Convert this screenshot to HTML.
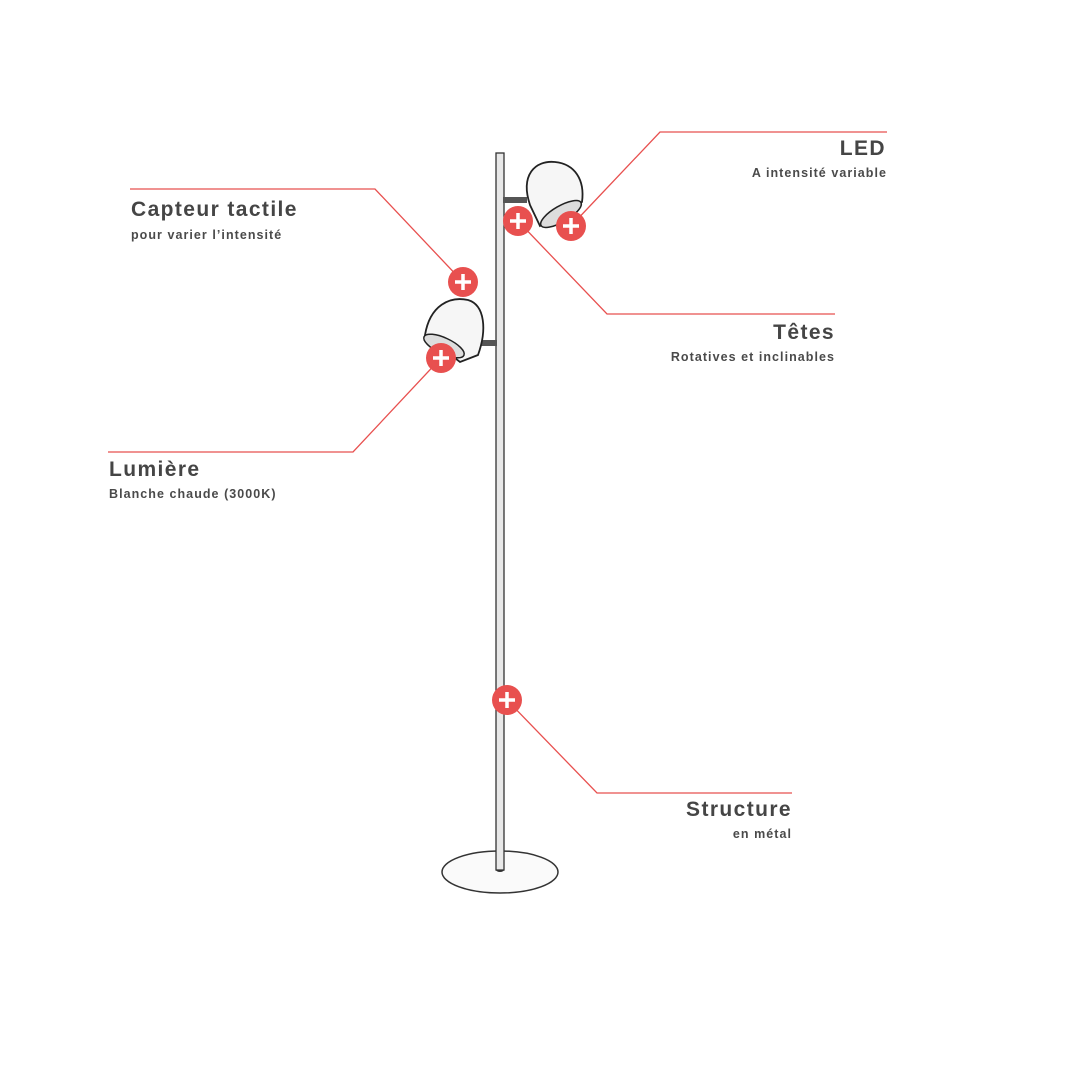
<!DOCTYPE html>
<html><head><style>
body{margin:0;background:#fff;width:1080px;height:1080px;overflow:hidden;position:relative;font-family:"Liberation Sans",sans-serif;color:#454545}
.t{position:absolute;font-weight:bold;font-size:21px;white-space:nowrap;letter-spacing:1.4px}
.s{position:absolute;font-size:12.5px;white-space:nowrap;letter-spacing:1.05px;font-weight:bold;color:#4a4a4a}
.r{text-align:right}
</style></head><body>
<svg width="1080" height="1080" style="position:absolute;left:0;top:0">
<g stroke="#e8504f" stroke-width="1.3" fill="none">
<polyline points="130,189 375,189 462,281"/>
<polyline points="887,132 660,132 571,226"/>
<polyline points="518,221 607,314 835,314"/>
<polyline points="108,452 353,452 441,358"/>
<polyline points="507,700 597,793 792,793"/>
</g>
<ellipse cx="500" cy="872" rx="58" ry="21" fill="#fafafa" stroke="#333" stroke-width="1.5"/>
<ellipse cx="500" cy="870" rx="4" ry="2" fill="#333"/>
<rect x="496" y="153" width="8" height="717" fill="#e8e8e8" stroke="#333" stroke-width="1.3"/>
<rect x="503" y="197" width="24" height="6" fill="#555"/>
<path d="M530,205 C520,175 535,160 555,162 C575,164 585,180 582,202 L540,226 Z" fill="#f6f6f6" stroke="#222" stroke-width="1.8"/>
<ellipse cx="561" cy="214" rx="23" ry="8" transform="rotate(-30 561 214)" fill="#ddd" stroke="#222" stroke-width="1.5"/>
<rect x="476" y="340" width="21" height="6" fill="#555"/>
<path d="M425,335 C430,305 450,296 468,300 C485,305 487,330 478,355 L460,362 Z" fill="#f6f6f6" stroke="#222" stroke-width="1.8"/>
<ellipse cx="444" cy="346" rx="22" ry="8" transform="rotate(25 444 346)" fill="#ddd" stroke="#222" stroke-width="1.5"/>
<g fill="#e8504f">
<circle cx="463" cy="282" r="15"/><circle cx="518" cy="221" r="15"/><circle cx="571" cy="226" r="15"/>
<circle cx="441" cy="358" r="15"/><circle cx="507" cy="700" r="15"/>
</g>
<g stroke="#fff" stroke-width="3.5">
<path d="M455,282h16M463,274v16"/><path d="M510,221h16M518,213v16"/><path d="M563,226h16M571,218v16"/>
<path d="M433,358h16M441,350v16"/><path d="M499,700h16M507,692v16"/>
</g>
</svg>
<div class="t" style="left:131px;top:198px">Capteur tactile</div>
<div class="s" style="left:131px;top:228px">pour varier l’intensité</div>
<div class="t r" style="right:194px;top:137px">LED</div>
<div class="s r" style="right:193px;top:166px">A intensité variable</div>
<div class="t r" style="right:245px;top:321px">Têtes</div>
<div class="s r" style="right:245px;top:350px">Rotatives et inclinables</div>
<div class="t" style="left:109px;top:458px">Lumière</div>
<div class="s" style="left:109px;top:487px">Blanche chaude (3000K)</div>
<div class="t r" style="right:288px;top:798px">Structure</div>
<div class="s r" style="right:288px;top:827px">en métal</div>
</body></html>
